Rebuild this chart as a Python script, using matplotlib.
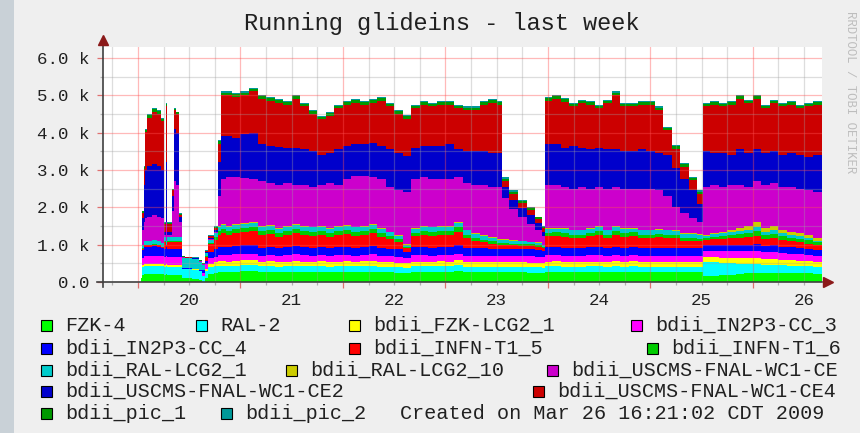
import numpy as np
import matplotlib
matplotlib.use('Agg')
import matplotlib.pyplot as plt
from matplotlib.patches import Rectangle
from matplotlib.transforms import blended_transform_factory

plt.rcParams['font.family'] = ['Liberation Mono', 'DejaVu Sans Mono']

# sample times, hours after Mar 20 00:00 (each value holds until the next one)
hours = [0.7, 0.9, 1.3, 1.6, 2.1, 3.3, 4.4, 5.4, 6.1, 6.6,
         6.9, 8.0, 8.4, 9.0, 9.5, 10.3, 11.0, 12.6, 14.3, 15.0,
         15.7, 16.4, 17.8, 18.7, 19.4, 20.6, 22, 24, 26, 28,
         30, 32, 34, 36, 38, 40, 42, 44, 46, 48,
         50, 52, 54, 56, 58, 60, 62, 64, 66, 68,
         70, 72, 74, 76, 78, 80, 82, 84, 85.2, 87,
         89, 91, 93, 94.6, 95.4, 97, 99, 101, 103, 105,
         107, 109, 111, 113, 115, 117, 119, 121, 123, 125,
         127, 129, 131, 132.3, 134, 136, 138, 140, 142, 144,
         146, 148, 150, 152, 154, 156, 158]
end_hour = 160.2

# running glideins per entry, in thousands
fzk_4 = [0.10, 0.20, 0.22, 0.22, 0.22, 0.22, 0.22, 0.22, 0.20, 0.22,
         0.20, 0.20, 0.20, 0.20, 0.20, 0.10, 0.10, 0.08, 0.05, 0.00,
         0.10, 0.22, 0.25, 0.27, 0.28, 0.27, 0.28, 0.29, 0.30, 0.27,
         0.28, 0.26, 0.27, 0.28, 0.27, 0.27, 0.28, 0.26, 0.27, 0.28,
         0.27, 0.28, 0.28, 0.26, 0.26, 0.25, 0.24, 0.27, 0.27, 0.27,
         0.28, 0.27, 0.29, 0.26, 0.26, 0.26, 0.26, 0.26, 0.26, 0.26,
         0.26, 0.25, 0.25, 0.24, 0.27, 0.27, 0.26, 0.26, 0.26, 0.27,
         0.27, 0.26, 0.28, 0.26, 0.27, 0.26, 0.26, 0.26, 0.26, 0.26,
         0.26, 0.26, 0.26, 0.16, 0.17, 0.18, 0.20, 0.22, 0.23, 0.24,
         0.24, 0.24, 0.24, 0.24, 0.23, 0.23, 0.22]
ral_2 = [0.00, 0.20, 0.20, 0.20, 0.20, 0.20, 0.20, 0.20, 0.20, 0.20,
         0.20, 0.20, 0.20, 0.20, 0.20, 0.25, 0.25, 0.25, 0.24, 0.15,
         0.20, 0.18, 0.18, 0.16, 0.15, 0.15, 0.16, 0.16, 0.16, 0.15,
         0.15, 0.15, 0.15, 0.16, 0.15, 0.15, 0.15, 0.15, 0.15, 0.15,
         0.15, 0.15, 0.16, 0.15, 0.15, 0.15, 0.14, 0.15, 0.15, 0.15,
         0.15, 0.15, 0.16, 0.15, 0.15, 0.15, 0.15, 0.15, 0.15, 0.15,
         0.15, 0.15, 0.15, 0.14, 0.15, 0.16, 0.15, 0.15, 0.15, 0.15,
         0.15, 0.15, 0.15, 0.15, 0.16, 0.15, 0.15, 0.15, 0.15, 0.15,
         0.15, 0.15, 0.15, 0.38, 0.37, 0.34, 0.30, 0.27, 0.25, 0.24,
         0.22, 0.22, 0.21, 0.20, 0.20, 0.19, 0.18]
fzk_lcg2_1 = [0.00, 0.05, 0.06, 0.06, 0.06, 0.06, 0.06, 0.06, 0.06, 0.06,
              0.06, 0.06, 0.06, 0.06, 0.06, 0.01, 0.01, 0.01, 0.01, 0.02,
              0.05, 0.08, 0.10, 0.12, 0.12, 0.12, 0.12, 0.13, 0.13, 0.12,
              0.12, 0.12, 0.12, 0.12, 0.12, 0.12, 0.12, 0.12, 0.12, 0.12,
              0.12, 0.12, 0.12, 0.12, 0.12, 0.12, 0.12, 0.12, 0.12, 0.12,
              0.12, 0.12, 0.13, 0.12, 0.12, 0.12, 0.12, 0.12, 0.12, 0.12,
              0.12, 0.12, 0.12, 0.12, 0.12, 0.12, 0.12, 0.12, 0.12, 0.12,
              0.12, 0.12, 0.12, 0.12, 0.12, 0.12, 0.12, 0.12, 0.12, 0.12,
              0.12, 0.12, 0.12, 0.12, 0.12, 0.13, 0.14, 0.15, 0.15, 0.16,
              0.15, 0.16, 0.15, 0.15, 0.14, 0.14, 0.13]
in2p3_cc_3 = [0.00, 0.20, 0.22, 0.22, 0.22, 0.22, 0.22, 0.22, 0.20, 0.22,
              0.20, 0.20, 0.20, 0.20, 0.20, 0.00, 0.00, 0.00, 0.00, 0.08,
              0.12, 0.15, 0.15, 0.17, 0.17, 0.17, 0.18, 0.17, 0.17, 0.16,
              0.17, 0.16, 0.17, 0.18, 0.17, 0.16, 0.17, 0.16, 0.17, 0.17,
              0.16, 0.17, 0.18, 0.16, 0.16, 0.16, 0.14, 0.17, 0.17, 0.16,
              0.17, 0.17, 0.18, 0.17, 0.17, 0.17, 0.17, 0.17, 0.17, 0.17,
              0.17, 0.17, 0.16, 0.16, 0.17, 0.17, 0.16, 0.17, 0.17, 0.17,
              0.17, 0.17, 0.17, 0.16, 0.17, 0.17, 0.17, 0.17, 0.17, 0.17,
              0.17, 0.17, 0.17, 0.17, 0.18, 0.18, 0.18, 0.18, 0.19, 0.19,
              0.18, 0.18, 0.18, 0.17, 0.17, 0.17, 0.17]
in2p3_cc_4 = [0.00, 0.20, 0.25, 0.25, 0.25, 0.27, 0.25, 0.20, 0.22, 0.25,
              0.22, 0.22, 0.22, 0.22, 0.22, 0.01, 0.01, 0.01, 0.01, 0.06,
              0.10, 0.18, 0.20, 0.22, 0.23, 0.22, 0.22, 0.23, 0.23, 0.22,
              0.22, 0.21, 0.22, 0.23, 0.22, 0.22, 0.22, 0.21, 0.22, 0.22,
              0.22, 0.22, 0.22, 0.21, 0.20, 0.19, 0.16, 0.22, 0.22, 0.22,
              0.22, 0.22, 0.24, 0.21, 0.20, 0.20, 0.19, 0.18, 0.18, 0.18,
              0.18, 0.18, 0.18, 0.17, 0.22, 0.21, 0.21, 0.21, 0.21, 0.22,
              0.22, 0.21, 0.22, 0.21, 0.21, 0.21, 0.21, 0.21, 0.21, 0.21,
              0.20, 0.20, 0.20, 0.15, 0.15, 0.16, 0.17, 0.17, 0.18, 0.19,
              0.18, 0.18, 0.17, 0.17, 0.17, 0.16, 0.16]
infn_t1_5 = [0.00, 0.03, 0.03, 0.03, 0.03, 0.03, 0.03, 0.03, 0.18, 0.03,
             0.18, 0.18, 0.18, 0.18, 0.18, 0.00, 0.00, 0.00, 0.00, 0.00,
             0.10, 0.20, 0.25, 0.32, 0.36, 0.33, 0.35, 0.36, 0.37, 0.34,
             0.34, 0.31, 0.33, 0.34, 0.33, 0.32, 0.32, 0.31, 0.33, 0.34,
             0.32, 0.32, 0.35, 0.31, 0.26, 0.20, 0.10, 0.29, 0.33, 0.32,
             0.32, 0.33, 0.35, 0.27, 0.20, 0.16, 0.13, 0.11, 0.11, 0.10,
             0.09, 0.09, 0.09, 0.08, 0.29, 0.30, 0.31, 0.27, 0.27, 0.29,
             0.33, 0.27, 0.32, 0.31, 0.30, 0.27, 0.27, 0.29, 0.27, 0.26,
             0.20, 0.20, 0.19, 0.14, 0.15, 0.17, 0.18, 0.19, 0.20, 0.22,
             0.18, 0.19, 0.17, 0.16, 0.15, 0.14, 0.12]
infn_t1_6 = [0.00, 0.02, 0.02, 0.02, 0.02, 0.02, 0.02, 0.02, 0.04, 0.02,
             0.04, 0.04, 0.04, 0.04, 0.04, 0.00, 0.00, 0.00, 0.00, 0.00,
             0.02, 0.04, 0.07, 0.10, 0.10, 0.10, 0.10, 0.11, 0.11, 0.10,
             0.10, 0.10, 0.10, 0.10, 0.10, 0.10, 0.10, 0.10, 0.10, 0.10,
             0.10, 0.10, 0.10, 0.10, 0.08, 0.07, 0.03, 0.09, 0.10, 0.10,
             0.10, 0.10, 0.11, 0.09, 0.08, 0.07, 0.07, 0.06, 0.06, 0.05,
             0.05, 0.05, 0.05, 0.04, 0.09, 0.10, 0.10, 0.09, 0.09, 0.09,
             0.10, 0.09, 0.10, 0.10, 0.10, 0.09, 0.09, 0.09, 0.09, 0.08,
             0.08, 0.08, 0.07, 0.06, 0.07, 0.08, 0.09, 0.10, 0.10, 0.12,
             0.10, 0.11, 0.10, 0.10, 0.09, 0.09, 0.08]
ral_lcg2_1 = [0.00, 0.10, 0.10, 0.10, 0.10, 0.10, 0.10, 0.10, 0.10, 0.10,
              0.10, 0.10, 0.10, 0.10, 0.10, 0.28, 0.26, 0.26, 0.23, 0.15,
              0.08, 0.08, 0.10, 0.12, 0.12, 0.12, 0.12, 0.11, 0.11, 0.12,
              0.12, 0.12, 0.12, 0.12, 0.12, 0.12, 0.12, 0.12, 0.12, 0.12,
              0.12, 0.12, 0.12, 0.12, 0.10, 0.09, 0.07, 0.12, 0.12, 0.12,
              0.12, 0.12, 0.12, 0.11, 0.10, 0.10, 0.09, 0.08, 0.08, 0.08,
              0.07, 0.06, 0.05, 0.04, 0.12, 0.10, 0.12, 0.11, 0.11, 0.12,
              0.12, 0.11, 0.12, 0.12, 0.10, 0.11, 0.11, 0.11, 0.11, 0.11,
              0.10, 0.10, 0.10, 0.06, 0.07, 0.08, 0.09, 0.09, 0.10, 0.10,
              0.09, 0.10, 0.08, 0.07, 0.07, 0.06, 0.05]
ral_lcg2_10 = [0.00, 0.00, 0.00, 0.00, 0.00, 0.00, 0.00, 0.00, 0.00, 0.00,
               0.00, 0.00, 0.00, 0.00, 0.00, 0.00, 0.00, 0.00, 0.00, 0.00,
               0.00, 0.00, 0.00, 0.02, 0.02, 0.02, 0.02, 0.02, 0.02, 0.02,
               0.02, 0.02, 0.02, 0.02, 0.02, 0.02, 0.02, 0.02, 0.02, 0.02,
               0.02, 0.02, 0.02, 0.02, 0.02, 0.02, 0.01, 0.02, 0.02, 0.02,
               0.02, 0.02, 0.02, 0.02, 0.02, 0.02, 0.02, 0.02, 0.02, 0.01,
               0.01, 0.01, 0.01, 0.01, 0.02, 0.02, 0.02, 0.02, 0.02, 0.02,
               0.02, 0.02, 0.02, 0.02, 0.02, 0.02, 0.02, 0.02, 0.02, 0.02,
               0.02, 0.02, 0.02, 0.02, 0.02, 0.03, 0.05, 0.08, 0.10, 0.14,
               0.11, 0.12, 0.10, 0.09, 0.08, 0.07, 0.06]
uscms_ce = [0.00, 0.40, 0.50, 0.60, 0.65, 0.68, 0.65, 0.65, 0.05, 0.50,
            0.05, 0.70, 1.50, 1.40, 0.40, 0.01, 0.01, 0.01, 0.01, 0.01,
            0.01, 0.02, 0.05, 0.80, 1.20, 1.30, 1.25, 1.20, 1.15, 1.20,
            1.13, 1.15, 1.15, 1.05, 1.10, 1.07, 1.10, 1.20, 1.10, 1.23,
            1.37, 1.35, 1.25, 1.30, 1.20, 1.20, 1.40, 1.30, 1.30, 1.27,
            1.25, 1.25, 1.20, 1.25, 1.30, 1.35, 1.35, 1.40, 1.10, 0.83,
            0.65, 0.47, 0.34, 0.22, 1.15, 1.15, 1.10, 1.10, 1.15, 1.05,
            1.05, 1.10, 1.05, 1.05, 1.05, 1.10, 1.08, 1.03, 0.90, 0.62,
            0.55, 0.42, 0.32, 1.29, 1.30, 1.20, 1.20, 1.15, 1.05, 1.10,
            1.15, 1.15, 1.15, 1.20, 1.20, 1.20, 1.23]
uscms_ce2 = [0.00, 0.30, 1.00, 1.30, 1.35, 1.35, 1.35, 1.30, 0.10, 1.60,
             0.10, 0.40, 1.40, 1.40, 0.15, 0.01, 0.01, 0.01, 0.01, 0.01,
             0.02, 0.03, 0.05, 0.90, 1.15, 1.10, 1.05, 1.17, 1.25, 1.00,
             1.00, 1.02, 0.95, 1.00, 0.95, 0.95, 0.80, 0.80, 0.95, 0.90,
             0.85, 0.85, 0.92, 0.90, 1.00, 1.00, 0.95, 0.85, 0.85, 0.90,
             0.90, 0.95, 0.75, 0.85, 0.90, 0.90, 0.90, 0.90, 0.30, 0.25,
             0.23, 0.23, 0.18, 0.13, 1.10, 1.10, 1.05, 1.15, 1.05, 1.05,
             1.05, 1.05, 1.00, 1.00, 1.00, 1.05, 1.02, 1.00, 1.10, 1.05,
             0.90, 0.73, 0.50, 0.95, 0.85, 0.90, 0.80, 0.95, 0.90, 0.85,
             0.85, 0.85, 0.85, 0.90, 0.90, 0.90, 1.00]
uscms_ce4 = [0.00, 0.16, 0.43, 1.02, 1.30, 1.40, 1.40, 1.30, 0.20, 1.50,
             0.20, 0.15, 0.50, 0.50, 0.05, 0.01, 0.01, 0.01, 0.01, 0.01,
             0.02, 0.04, 0.05, 0.50, 1.10, 1.10, 1.10, 1.05, 1.10, 1.20,
             1.20, 1.18, 1.15, 1.30, 1.15, 1.00, 0.95, 1.00, 1.10, 1.10,
             1.10, 1.05, 1.08, 1.20, 1.15, 1.05, 1.00, 1.05, 1.10, 1.05,
             1.10, 1.05, 1.10, 1.10, 1.10, 1.25, 1.35, 1.30, 0.15, 0.16,
             0.14, 0.15, 0.10, 0.09, 1.15, 1.20, 1.23, 1.05, 1.18, 1.20,
             1.05, 1.23, 1.45, 1.20, 1.20, 1.20, 1.25, 1.15, 0.66, 0.52,
             0.34, 0.27, 0.25, 1.20, 1.30, 1.25, 1.35, 1.35, 1.33, 1.35,
             1.20, 1.28, 1.30, 1.30, 1.25, 1.35, 1.35]
pic_1 = [0.00, 0.03, 0.05, 0.06, 0.07, 0.07, 0.07, 0.07, 0.04, 0.07,
         0.04, 0.04, 0.04, 0.04, 0.03, 0.01, 0.01, 0.01, 0.01, 0.01,
         0.02, 0.02, 0.03, 0.07, 0.07, 0.07, 0.07, 0.07, 0.07, 0.07,
         0.07, 0.07, 0.07, 0.07, 0.07, 0.07, 0.07, 0.07, 0.07, 0.07,
         0.07, 0.07, 0.07, 0.07, 0.07, 0.07, 0.07, 0.07, 0.07, 0.07,
         0.07, 0.07, 0.07, 0.07, 0.07, 0.07, 0.07, 0.07, 0.07, 0.06,
         0.06, 0.05, 0.05, 0.04, 0.07, 0.07, 0.07, 0.07, 0.07, 0.07,
         0.07, 0.07, 0.07, 0.07, 0.07, 0.07, 0.07, 0.07, 0.07, 0.07,
         0.07, 0.07, 0.07, 0.07, 0.07, 0.07, 0.07, 0.07, 0.07, 0.07,
         0.07, 0.07, 0.07, 0.07, 0.07, 0.07, 0.07]
pic_2 = [0.00, 0.01, 0.02, 0.02, 0.03, 0.03, 0.03, 0.03, 0.01, 0.03,
         0.01, 0.01, 0.01, 0.01, 0.02, 0.01, 0.01, 0.01, 0.01, 0.00,
         0.01, 0.01, 0.02, 0.03, 0.03, 0.03, 0.03, 0.03, 0.03, 0.03,
         0.03, 0.03, 0.03, 0.03, 0.03, 0.03, 0.03, 0.03, 0.03, 0.03,
         0.03, 0.03, 0.03, 0.03, 0.03, 0.03, 0.03, 0.03, 0.03, 0.03,
         0.03, 0.03, 0.03, 0.03, 0.03, 0.03, 0.03, 0.03, 0.03, 0.03,
         0.02, 0.02, 0.02, 0.02, 0.03, 0.03, 0.03, 0.03, 0.03, 0.03,
         0.03, 0.03, 0.03, 0.03, 0.03, 0.03, 0.03, 0.03, 0.03, 0.03,
         0.03, 0.03, 0.03, 0.03, 0.03, 0.03, 0.03, 0.03, 0.03, 0.03,
         0.03, 0.03, 0.03, 0.03, 0.03, 0.03, 0.03]

# stacking order, bottom to top
series = [
    ('FZK-4', '#00ff00', fzk_4),
    ('RAL-2', '#00ffff', ral_2),
    ('bdii_FZK-LCG2_1', '#ffff00', fzk_lcg2_1),
    ('bdii_IN2P3-CC_3', '#ff00ff', in2p3_cc_3),
    ('bdii_IN2P3-CC_4', '#0000ff', in2p3_cc_4),
    ('bdii_INFN-T1_5', '#ff0000', infn_t1_5),
    ('bdii_INFN-T1_6', '#00cc00', infn_t1_6),
    ('bdii_RAL-LCG2_1', '#00cccc', ral_lcg2_1),
    ('bdii_RAL-LCG2_10', '#cccc00', ral_lcg2_10),
    ('bdii_USCMS-FNAL-WC1-CE', '#cc00cc', uscms_ce),
    ('bdii_USCMS-FNAL-WC1-CE2', '#0000cc', uscms_ce2),
    ('bdii_USCMS-FNAL-WC1-CE4', '#cc0000', uscms_ce4),
    ('bdii_pic_1', '#009900', pic_1),
    ('bdii_pic_2', '#009999', pic_2),
]

day_labels = ['20', '21', '22', '23', '24', '25', '26']
ytick_labels = ['0.0', '1.0 k', '2.0 k', '3.0 k', '4.0 k', '5.0 k', '6.0 k']
title = 'Running glideins - last week'
footer = 'Created on Mar 26 16:21:02 CDT 2009'

W, H = 860, 433
fig = plt.figure(figsize=(W / 100, H / 100), dpi=100)
fig.patch.set_facecolor('#efefef')
fig.add_artist(Rectangle((0, 0), 14 / W, 1, transform=fig.transFigure,
                         facecolor='#c9d1d7', edgecolor='none'))

ax = fig.add_axes([103 / W, 1 - 282 / H, (822 - 103) / W, (282 - 47) / H])
ax.set_facecolor('white')

x = np.append(hours, end_hour)
base = np.zeros(len(x))
for name, color, vals in series:
    v = np.append(vals, vals[-1])
    top = base + v
    ax.fill_between(x, base, top, step='post', facecolor=color,
                    linewidth=0, antialiased=False, zorder=2)
    base = top

ax.set_xlim(-8.2, end_hour)
ax.set_ylim(0, 6.29)

# grid on top of the areas, rrdtool style
for h in range(-6, 161, 6):
    if h % 24 == 0:
        ax.axvline(h, color='#ff5050', lw=0.9, alpha=0.4, zorder=3)
    else:
        ax.axvline(h, color='#a0a0a0', lw=0.9, alpha=0.35, zorder=3)
for yv in np.arange(0.5, 6.3, 0.5):
    if abs(yv - round(yv)) < 1e-6:
        ax.axhline(yv, color='#ff5050', lw=0.9, alpha=0.4, zorder=3)
    else:
        ax.axhline(yv, color='#a0a0a0', lw=0.9, alpha=0.35, zorder=3)

for s in ax.spines.values():
    s.set_visible(False)

ax.set_xticks(range(0, 161, 24))
ax.set_xticks(range(-6, 161, 6), minor=True)
ax.set_xticklabels([])
ax.tick_params(axis='x', which='major', length=4, width=0.9, color='#e07070')
ax.tick_params(axis='x', which='minor', length=2, width=0.9, color='#b0b0b0')
ax.set_yticks(range(0, 7))
ax.set_yticklabels(ytick_labels, fontsize=12.6, color='#202020')
ax.set_yticks(np.arange(0.5, 6.3, 1.0), minor=True)
ax.tick_params(axis='y', which='major', length=4, width=0.9, color='#e07070',
               pad=6)
ax.tick_params(axis='y', which='minor', length=2, width=0.9, color='#b0b0b0')

trans = blended_transform_factory(ax.transData, ax.transAxes)
for i, lab in enumerate(day_labels):
    ax.text(12 + 24 * i, -0.098, lab, transform=trans, ha='center',
            va='baseline', fontsize=12.6, color='#202020')

# axis lines with arrow heads
ax.plot([0, 0], [-0.02, 1.02], transform=ax.transAxes, color='#404040',
        lw=1.2, clip_on=False, zorder=5)
ax.plot([-0.008, 1.0], [0, 0], transform=ax.transAxes, color='#404040',
        lw=1.2, clip_on=False, zorder=5)
ax.plot([0], [1.03], marker='^', ms=7, color='#8b1a1a', transform=ax.transAxes,
        clip_on=False, zorder=6)
ax.plot([1.009], [0], marker='>', ms=7, color='#8b1a1a', transform=ax.transAxes,
        clip_on=False, zorder=6)

fig.text(442 / W, 1 - 30 / H, title, ha='center', va='baseline',
         fontsize=17, color='#202020')
fig.text(850 / W, 1 - 92 / H, 'RRDTOOL / TOBI OETIKER', rotation=270,
         ha='center', va='center', fontsize=8.8, color='#bdbdbd')

# legend, laid out in rows like rrdtool
legend_rows = [
    [(41, 0), (196, 1), (349, 2), (631, 3)],
    [(41, 4), (349, 5), (647, 6)],
    [(41, 7), (286, 8), (547, 9)],
    [(41, 10), (533, 11)],
    [(41, 12), (221, 13)],
]
baselines = [331, 353.5, 375.5, 397, 419]
for row, yb in zip(legend_rows, baselines):
    for xs, k in row:
        name, color, _ = series[k]
        fig.add_artist(Rectangle((xs / W, 1 - yb / H), 11 / W, 11 / H,
                                 transform=fig.transFigure, facecolor=color,
                                 edgecolor='black', lw=0.8))
        fig.text((xs + 24) / W, 1 - yb / H, name, ha='left', va='baseline',
                 fontsize=14.5, color='#202020')
fig.text(400 / W, 1 - baselines[-1] / H, footer, ha='left', va='baseline',
         fontsize=14.5, color='#202020')

fig.savefig('out.png', dpi=100, facecolor=fig.get_facecolor())
